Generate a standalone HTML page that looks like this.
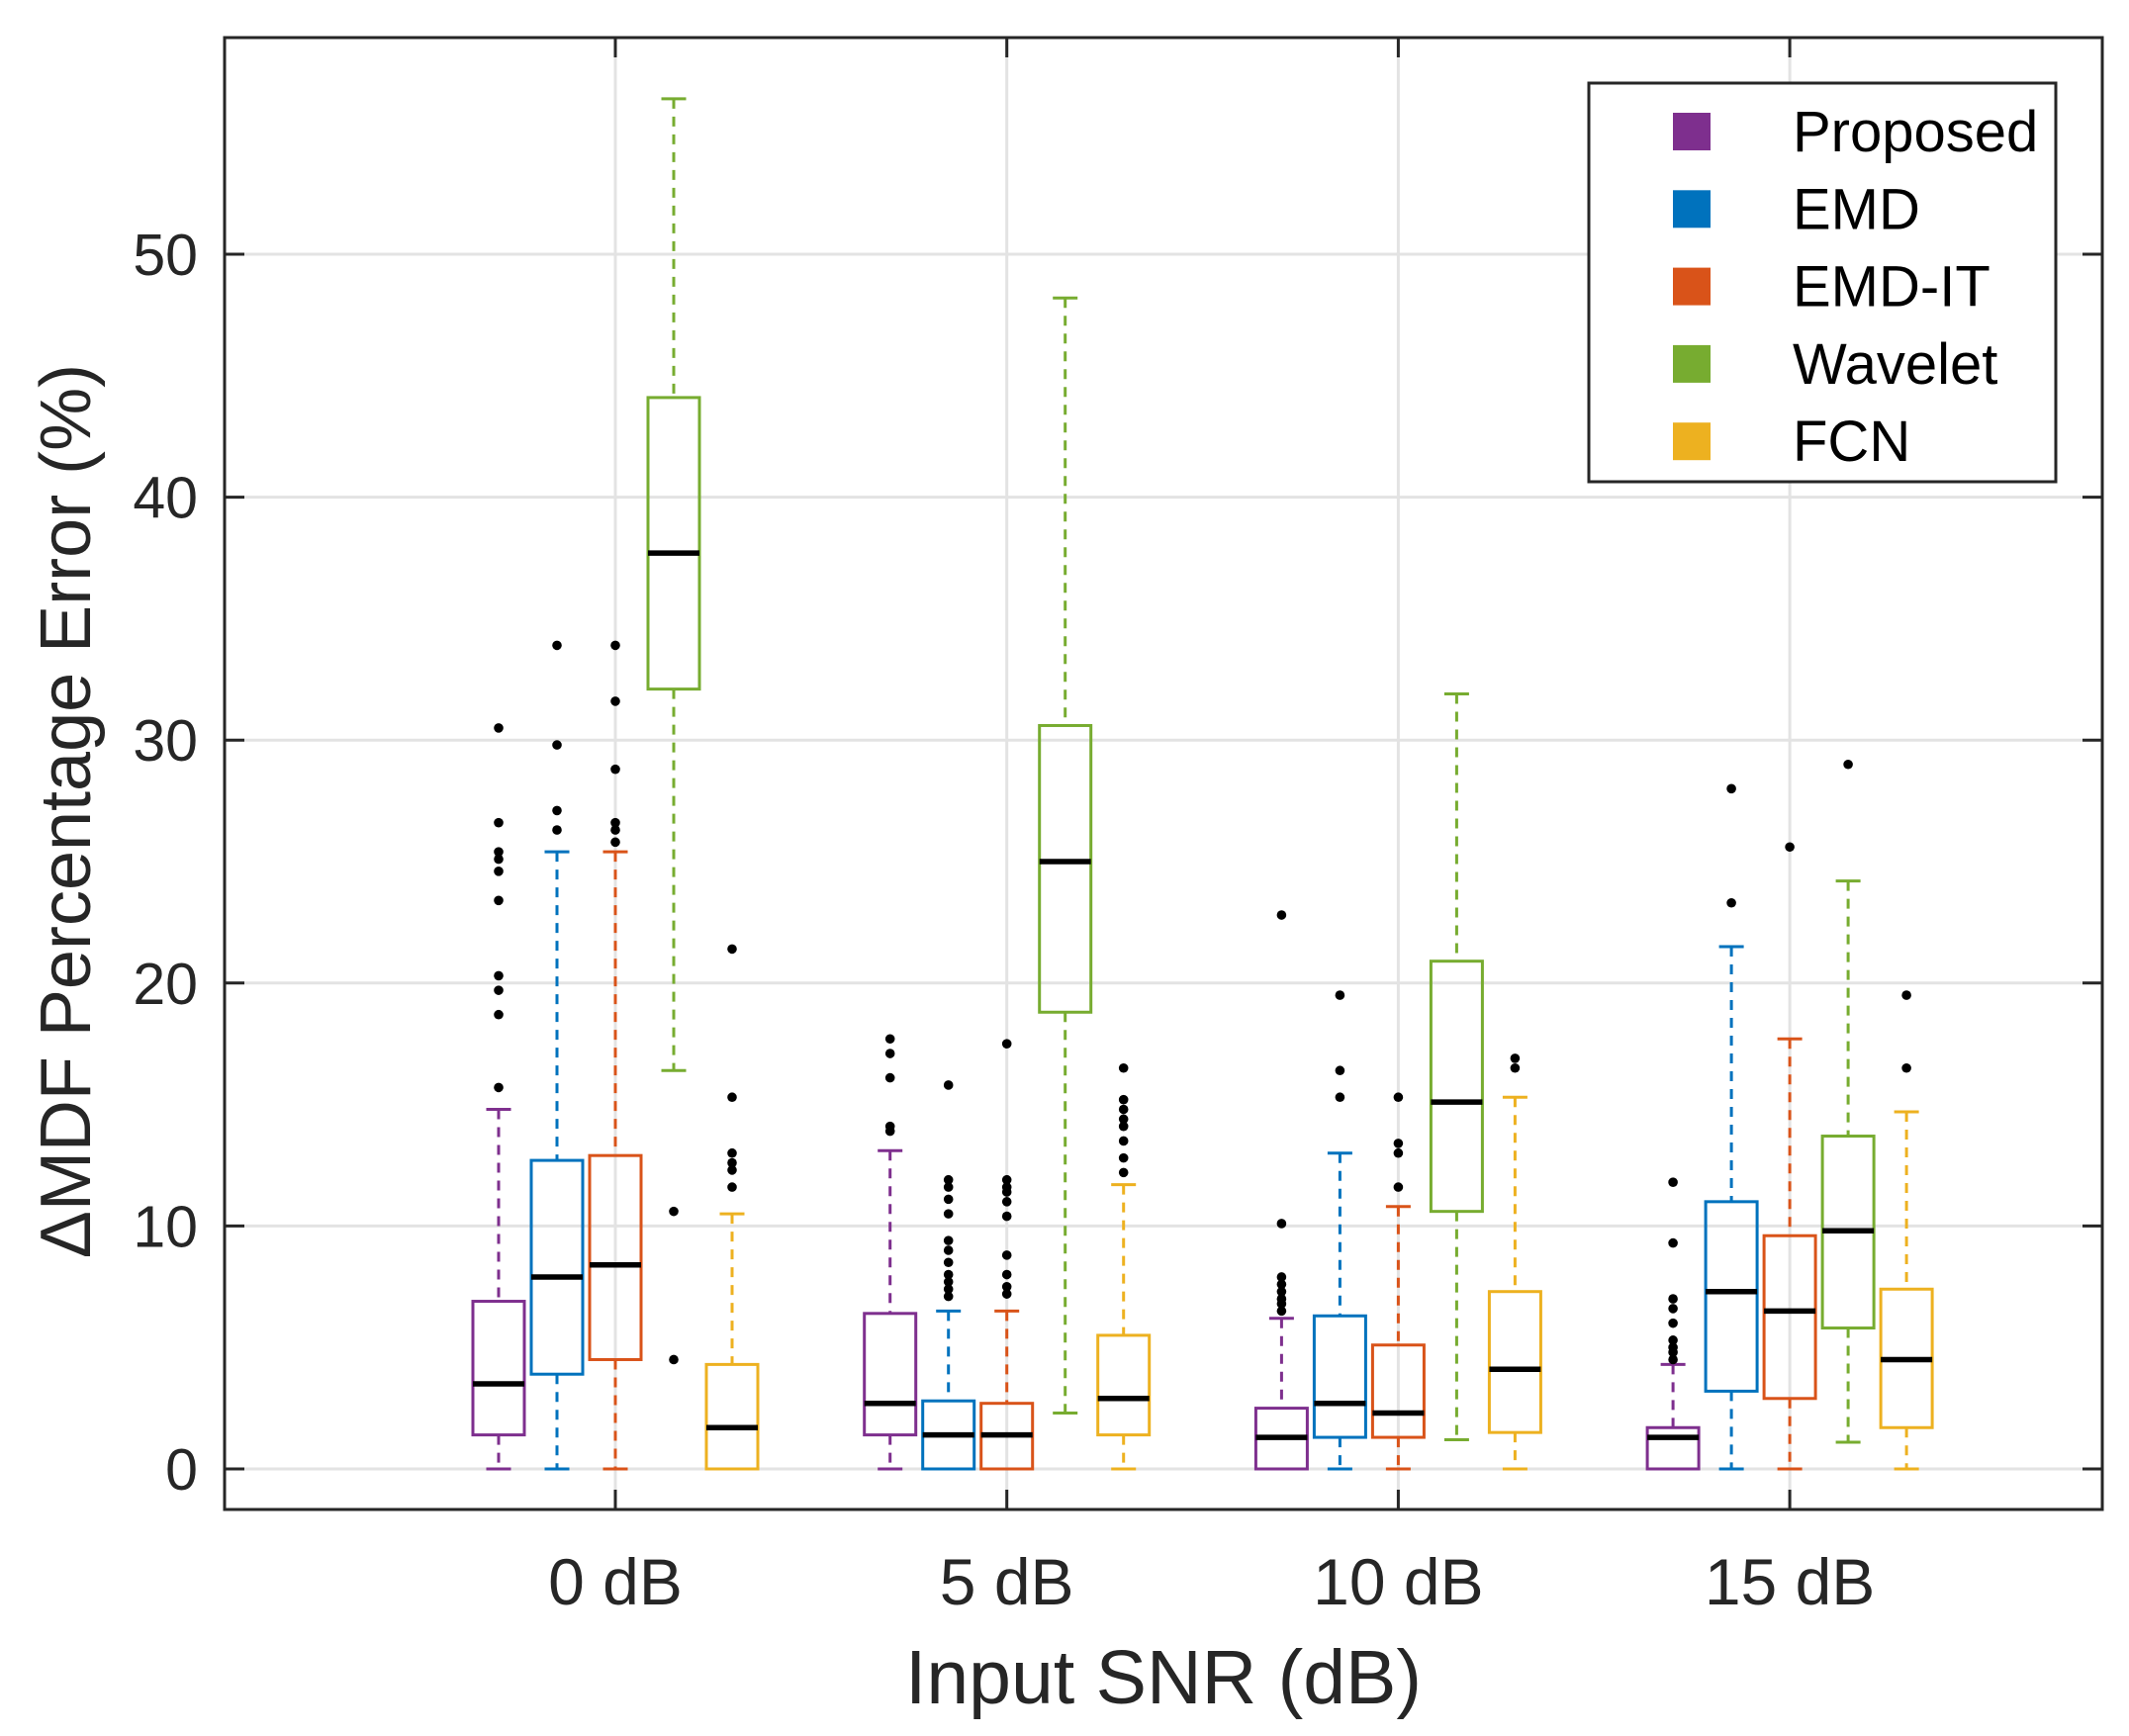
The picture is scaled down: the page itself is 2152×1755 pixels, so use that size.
<!DOCTYPE html>
<html><head><meta charset="utf-8"><style>
html,body{margin:0;padding:0;background:#fff;}
svg{display:block;font-family:"Liberation Sans",Arial,sans-serif;}
</style></head><body>
<svg id="chart" width="2152" height="1755" viewBox="0 0 2152 1755" xmlns="http://www.w3.org/2000/svg">
<rect x="0" y="0" width="2152" height="1755" fill="#fff"/>
<g id="grid"></g>
<g id="boxes"></g>
<rect x="227" y="38" width="1898" height="1488" fill="none" stroke="#262626" stroke-width="3"/>
<g id="axes"></g>
<text x="1176" y="1722" font-size="77" fill="#262626" text-anchor="middle">Input SNR (dB)</text>
<text transform="translate(91,820) rotate(-90)" font-size="72" fill="#262626" text-anchor="middle">ΔMDF Percentage Error (%)</text>
<g id="legend">
<rect x="1606" y="84" width="472" height="403" fill="#fff" stroke="#262626" stroke-width="3"/>
</g>
</svg>
<script>
const categories = ["0 dB","5 dB","10 dB","15 dB"];
const methods = ["Proposed","EMD","EMD-IT","Wavelet","FCN"];
const colors = ["#7E2F8E","#0072BD","#D95319","#77AC30","#EDB120"];
const yTicks = [0,10,20,30,40,50];
// per category, per method: [whiskerLow, q1, median, q3, whiskerHigh]
const stats0 = [[0,1.4,3.5,6.9,14.8],[0,3.9,7.9,12.7,25.4],[0,4.5,8.4,12.9,25.4],[16.4,32.1,37.7,44.1,56.4],[0,0,1.7,4.3,10.5]];
const stats5 = [[0,1.4,2.7,6.4,13.1],[0,0,1.4,2.8,6.5],[0,0,1.4,2.7,6.5],[2.3,18.8,25.0,30.6,48.2],[0,1.4,2.9,5.5,11.7]];
const stats10 = [[0,0,1.3,2.5,6.2],[0,1.3,2.7,6.3,13.0],[0,1.3,2.3,5.1,10.8],[1.2,10.6,15.1,20.9,31.9],[0,1.5,4.1,7.3,15.3]];
const stats15 = [[0,0,1.3,1.7,4.3],[0,3.2,7.3,11.0,21.5],[0,2.9,6.5,9.6,17.7],[1.1,5.8,9.8,13.7,24.2],[0,1.7,4.5,7.4,14.7]];
const outliers0 = [[15.7,18.7,19.7,20.3,23.4,24.6,25.1,25.4,26.6,30.5],[26.3,27.1,29.8,33.9],[25.8,26.3,26.6,28.8,31.6,33.9],[4.5,10.6],[11.6,12.3,12.6,13.0,15.3,21.4]];
const outliers5 = [[13.9,14.1,16.1,17.1,17.7],[7.1,7.4,7.7,8.0,8.5,9.0,9.4,10.5,11.1,11.6,11.9,15.8],[7.2,7.5,8.0,8.8,10.4,11.0,11.4,11.6,11.9,17.5],[],[12.2,12.8,13.5,14.1,14.4,14.8,15.2,16.5]];
const outliers10 = [[6.5,6.8,7.0,7.3,7.6,7.9,10.1,22.8],[15.3,16.4,19.5],[11.6,13.0,13.4,15.3],[],[16.5,16.9]];
const outliers15 = [[4.5,4.8,5.0,5.3,6.0,6.6,7.0,9.3,11.8],[23.3,28.0],[25.6],[29.0],[16.5,19.5]];
const allStats = [stats0,stats5,stats10,stats15];
const allOutliers = [outliers0,outliers5,outliers10,outliers15];

const NS="http://www.w3.org/2000/svg";
const Y0=1485, PX_PER=24.56;
function yScale(v){return Y0 - v*PX_PER;}
function xScale(ci){return 622 + ci*395.7;}
const OFFSET=59, BOXW=52, CAPW=25;
function mk(tag,attrs,parent){const e=document.createElementNS(NS,tag);for(const k in attrs)e.setAttribute(k,attrs[k]);parent.appendChild(e);return e;}

const grid=document.getElementById('grid'), axes=document.getElementById('axes'), boxes=document.getElementById('boxes'), legend=document.getElementById('legend');
yTicks.forEach(t=>{
  const y=yScale(t);
  const g=mk('line',{x1:227,x2:2125,y1:y,y2:y,stroke:'#e3e3e3','stroke-width':3},grid);
  
  
  const tl=mk('line',{x1:227,x2:247,y1:y,y2:y,stroke:'#262626','stroke-width':3},axes);
  
  
  const tr=mk('line',{x1:2105,x2:2125,y1:y,y2:y,stroke:'#262626','stroke-width':3},axes);
  
  
  const tx=mk('text',{x:200,y:y+21,'font-size':59,fill:'#262626','text-anchor':'end'},axes);
  tx.textContent=t;
  
  
});
categories.forEach((c,ci)=>{
  const x=xScale(ci);
  const g=mk('line',{x1:x,x2:x,y1:38,y2:1526,stroke:'#e3e3e3','stroke-width':3},grid);
  
  
  const t1=mk('line',{x1:x,x2:x,y1:1506,y2:1526,stroke:'#262626','stroke-width':3},axes);
  
  
  const t2=mk('line',{x1:x,x2:x,y1:38,y2:58,stroke:'#262626','stroke-width':3},axes);
  
  
  const tx=mk('text',{x:x,y:1622,'font-size':66,fill:'#262626','text-anchor':'middle'},axes);
  tx.textContent=c;
  
  
});
allStats.forEach((cat,ci)=>{
  cat.forEach((s,mi)=>{
    const cx=xScale(ci)+(mi-2)*OFFSET, col=colors[mi];
    const g=mk('g',{},boxes);
    
    
    const [lo,q1,md,q3,hi]=s;
    mk('line',{x1:cx,x2:cx,y1:yScale(hi),y2:yScale(q3),stroke:col,'stroke-width':3,'stroke-dasharray':'10 8'},g);
    mk('line',{x1:cx,x2:cx,y1:yScale(q1),y2:yScale(lo),stroke:col,'stroke-width':3,'stroke-dasharray':'10 8'},g);
    mk('line',{x1:cx-CAPW/2,x2:cx+CAPW/2,y1:yScale(hi),y2:yScale(hi),stroke:col,'stroke-width':3},g);
    mk('line',{x1:cx-CAPW/2,x2:cx+CAPW/2,y1:yScale(lo),y2:yScale(lo),stroke:col,'stroke-width':3},g);
    mk('rect',{x:cx-BOXW/2,y:yScale(q3),width:BOXW,height:Math.max(0.5,yScale(q1)-yScale(q3)),fill:'none',stroke:col,'stroke-width':3},g);
    mk('line',{x1:cx-BOXW/2,x2:cx+BOXW/2,y1:yScale(md),y2:yScale(md),stroke:'#000','stroke-width':5.5},g);
    allOutliers[ci][mi].forEach(v=>{
      const d=mk('circle',{cx:cx,cy:yScale(v),r:4.8,fill:'#000'},g);
      
      
    });
  });
});
methods.forEach((m,i)=>{
  const y=133+i*78.3;
  const sw=mk('rect',{x:1691,y:y-19,width:38,height:38,fill:colors[i]},legend);
  
  
  const t=mk('text',{x:1812,y:y+20,'font-size':58,fill:'#000'},legend);
  t.textContent=m;
  
  
});
</script>
</body></html>
